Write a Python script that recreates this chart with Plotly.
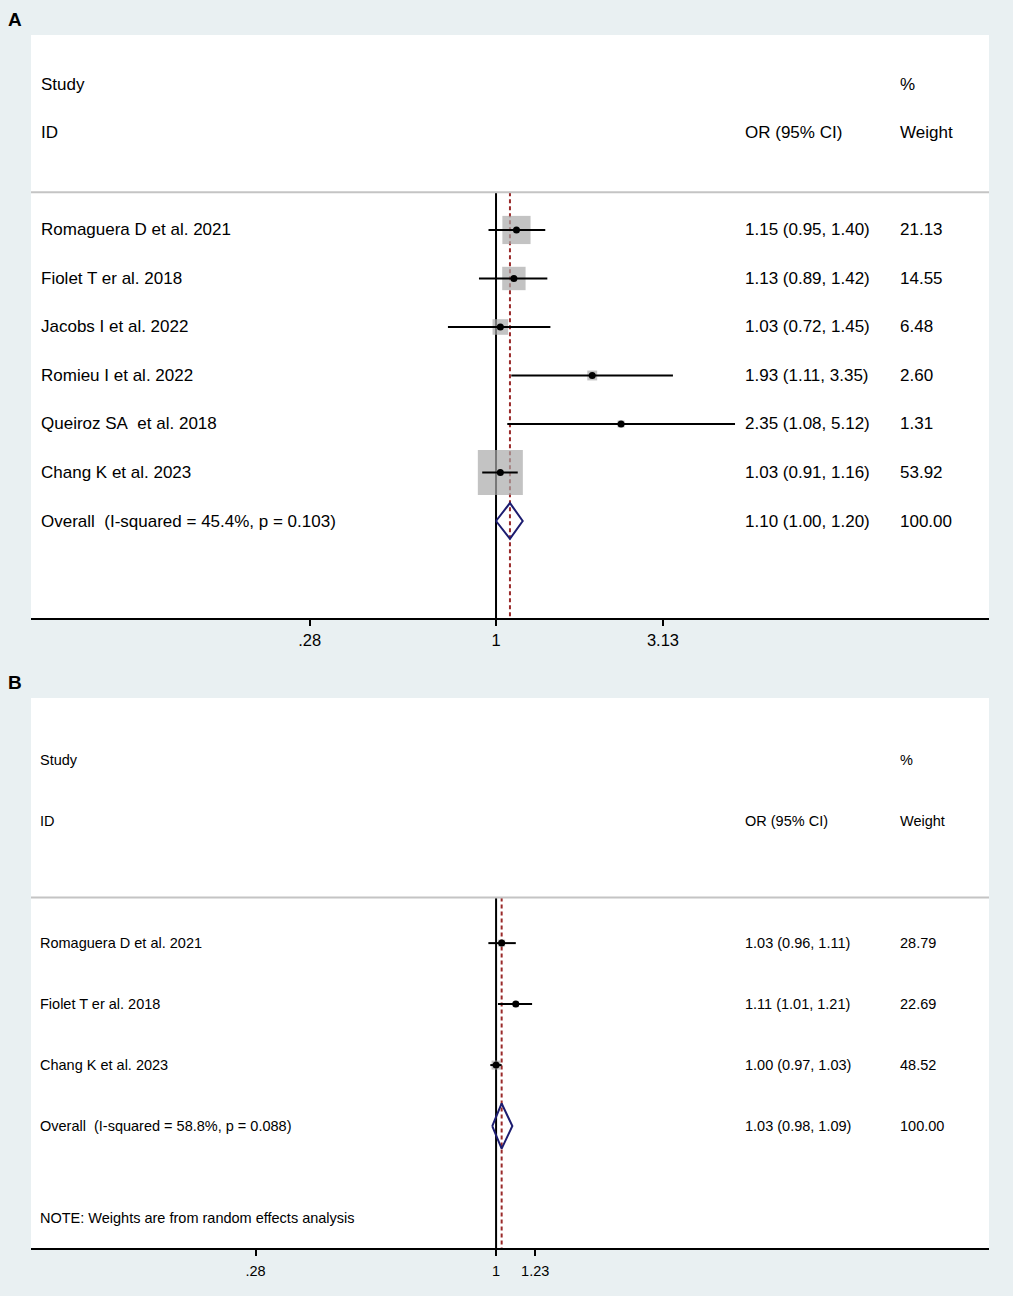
import plotly.graph_objects as go
import math

# ---------------- data ----------------
studies_a = ["Romaguera D et al. 2021", "Fiolet T er al. 2018", "Jacobs I et al. 2022",
             "Romieu I et al. 2022", "Queiroz SA\u00a0\u00a0et al. 2018", "Chang K et al. 2023"]
or_a = [1.15, 1.13, 1.03, 1.93, 2.35, 1.03]
lo_a = [0.95, 0.89, 0.72, 1.11, 1.08, 0.91]
hi_a = [1.40, 1.42, 1.45, 3.35, 5.12, 1.16]
w_a = [21.13, 14.55, 6.48, 2.60, 1.31, 53.92]
overall_a = (1.10, 1.00, 1.20)
overall_label_a = "Overall\u00a0\u00a0(I-squared = 45.4%, p = 0.103)"
ticks_a = [0.28, 1, 3.13]
ticktext_a = [".28", "1", "3.13"]

studies_b = ["Romaguera D et al. 2021", "Fiolet T er al. 2018", "Chang K et al. 2023"]
or_b = [1.03, 1.11, 1.00]
lo_b = [0.96, 1.01, 0.97]
hi_b = [1.11, 1.21, 1.03]
w_b = [28.79, 22.69, 48.52]
overall_b = (1.03, 0.98, 1.09)
overall_label_b = "Overall\u00a0\u00a0(I-squared = 58.8%, p = 0.088)"
ticks_b = [0.28, 1, 1.23]
ticktext_b = [".28", "1", "1.23"]
null_value = 1

# ---------------- style ----------------
W, H = 1013, 1296
BG = "#e9f0f2"
FONT = "Liberation Sans, Arial, sans-serif"
BOX = "#a9a9a9"
NAVY = "#1c1c70"
RED = "#9a2a2a"

fig = go.Figure()


def px_x(p):
    return p / W


def px_y(p):
    return 1 - p / H


def panel(xa, ya, studies, ors, los, his, ws, overall, overall_label,
          sep_row, bottom_row, box_max, fs, diamond_h, x_left):
    n = len(studies)
    rows = list(range(n))
    xref = "x" if xa == 1 else f"x{xa}"
    yref = "y" if ya == 1 else f"y{ya}"
    # null line
    fig.add_trace(go.Scatter(x=[null_value, null_value], y=[sep_row, bottom_row], mode="lines",
                             line=dict(color="black", width=2), xaxis=xref, yaxis=yref,
                             showlegend=False, hoverinfo="skip"))
    # overall dashed
    fig.add_trace(go.Scatter(x=[overall[0], overall[0]], y=[sep_row, bottom_row], mode="lines",
                             line=dict(color=RED, width=2, dash="4px,3px"), xaxis=xref, yaxis=yref,
                             showlegend=False, hoverinfo="skip"))
    # boxes
    wmax = max(ws)
    sizes = [box_max * math.sqrt(w / wmax) for w in ws]
    fig.add_trace(go.Scatter(x=ors, y=rows, mode="markers",
                             marker=dict(symbol="square", size=sizes, color=BOX, line=dict(width=0)),
                             xaxis=xref, yaxis=yref, showlegend=False, hoverinfo="skip"))
    # CI lines
    cx, cy = [], []
    for r, lo, hi in zip(rows, los, his):
        cx += [lo, hi, None]
        cy += [r, r, None]
    fig.add_trace(go.Scatter(x=cx, y=cy, mode="lines", line=dict(color="black", width=2),
                             xaxis=xref, yaxis=yref, showlegend=False, hoverinfo="skip"))
    # point estimates
    fig.add_trace(go.Scatter(x=ors, y=rows, mode="markers",
                             marker=dict(symbol="circle", size=7, color="black"),
                             xaxis=xref, yaxis=yref, showlegend=False, hoverinfo="skip"))
    # diamond
    est, lo, hi = overall
    r = n
    fig.add_trace(go.Scatter(x=[lo, est, hi, est, lo], y=[r, r - diamond_h, r, r + diamond_h, r],
                             mode="lines", line=dict(color=NAVY, width=2),
                             xaxis=xref, yaxis=yref, showlegend=False, hoverinfo="skip"))
    # separator
    fig.add_shape(type="line", xref=f"{xref} domain", yref=yref, x0=0, x1=1, y0=sep_row, y1=sep_row,
                  line=dict(color="#c4c4c4", width=2))

    font = dict(family=FONT, size=fs, color="black")
    x_study = px_x(x_left)
    x_or = px_x(743)
    x_w = px_x(898)

    def ann(x, y, t):
        fig.add_annotation(x=x, y=y, xref="paper", yref=yref, text=t, showarrow=False,
                           xanchor="left", yanchor="middle", font=font)
    ann(x_study, -3, "Study")
    ann(x_study, -2, "ID")
    ann(x_or, -2, "OR (95% CI)")
    ann(x_w, -3, "%")
    ann(x_w, -2, "Weight")
    for i in range(n):
        ann(x_study, i, studies[i])
        ann(x_or, i, f"{ors[i]:.2f} ({los[i]:.2f}, {his[i]:.2f})")
        ann(x_w, i, f"{ws[i]:.2f}")
    ann(x_study, n, overall_label)
    ann(x_or, n, f"{overall[0]:.2f} ({overall[1]:.2f}, {overall[2]:.2f})")
    ann(x_w, n, "100.00")
    return x_study, font


panel(1, 1, studies_a, or_a, lo_a, hi_a, w_a, overall_a, overall_label_a,
      -0.78, 8.0, 45, 17, 0.37, 39)
xs_b, font_b = panel(2, 2, studies_b, or_b, lo_b, hi_b, w_b, overall_b, overall_label_b,
                     -0.75, 5.0, 9, 14.5, 0.37, 38)
fig.add_annotation(x=xs_b, y=4.5, xref="paper", yref="y2", text="NOTE: Weights are from random effects analysis",
                   showarrow=False, xanchor="left", yanchor="middle", font=font_b)

# panel labels
for lab, yp in [("A", 20), ("B", 682)]:
    fig.add_annotation(x=px_x(6), y=px_y(yp), xref="paper", yref="paper", text=f"<b>{lab}</b>",
                       showarrow=False, xanchor="left", yanchor="middle",
                       font=dict(family=FONT, size=19, color="black"))

xdom = [px_x(31), px_x(989)]
common_x = dict(type="log", domain=xdom, showgrid=False, zeroline=False, showline=True,
                linecolor="black", linewidth=2, ticks="outside", ticklen=6, tickwidth=2,
                tickcolor="black", fixedrange=True)
fig.update_layout(
    width=W, height=H,
    margin=dict(l=0, r=0, t=0, b=0),
    paper_bgcolor=BG, plot_bgcolor="white",
    xaxis=dict(**common_x, anchor="y", range=[-1.380, 1.463], tickvals=ticks_a, ticktext=ticktext_a,
               tickfont=dict(family=FONT, size=16.5, color="black")),
    yaxis=dict(domain=[px_y(618), px_y(35)], range=[8.0, -4.02], visible=False, anchor="x"),
    xaxis2=dict(**common_x, anchor="y2", range=[-1.069, 1.133], tickvals=ticks_b, ticktext=ticktext_b,
                tickfont=dict(family=FONT, size=14.5, color="black"), ticklabelstandoff=3),
    yaxis2=dict(domain=[px_y(1248), px_y(698)], range=[5.0, -4.02], visible=False, anchor="x2"),
)

fig.write_html("out.html", config={"displayModeBar": False},
               post_script="document.body.style.margin='0';document.body.style.padding='0';"
                           "document.body.style.background='%s';"
                           "document.documentElement.style.background='%s';"
                           "document.body.style.overflow='hidden';" % (BG, BG))
